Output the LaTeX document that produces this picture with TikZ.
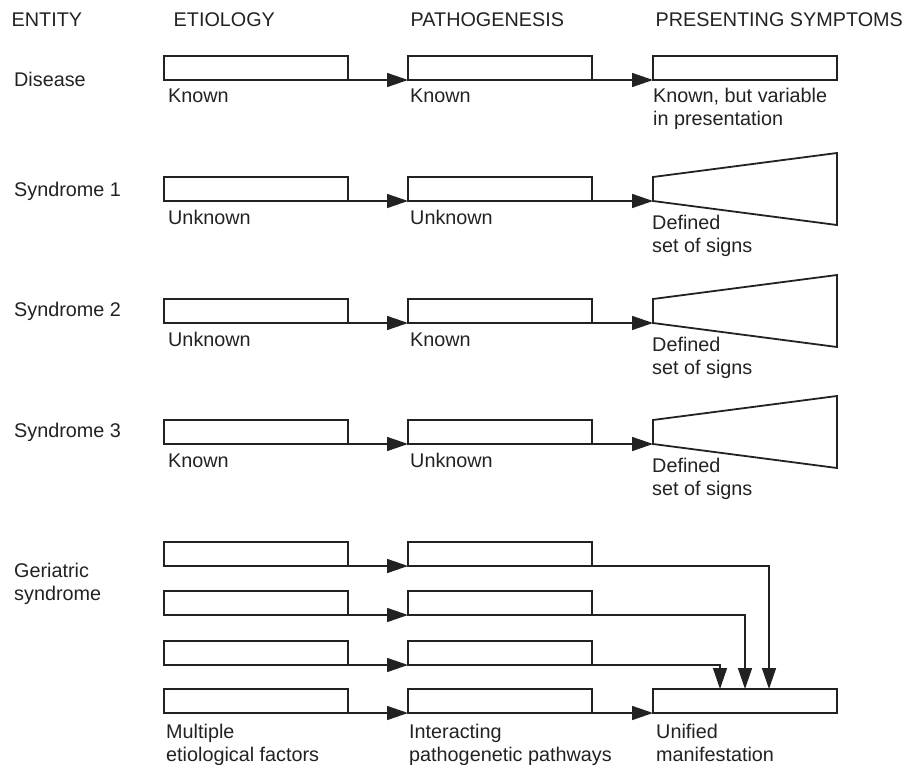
\documentclass[tikz,border=0pt]{standalone}
\usepackage{fontspec}
\setmainfont{Liberation Sans}
\usetikzlibrary{arrows.meta}
\definecolor{ink}{HTML}{222222}
\begin{document}
\begin{tikzpicture}[x=1pt,y=-1pt,
  box/.style={draw=ink, line width=1.8pt, minimum width=184pt, minimum height=24pt, inner sep=0pt, outer sep=0pt, anchor=north west},
  txt/.style={font=\fontsize{19.8}{23}\selectfont, text=ink, inner sep=0pt, anchor=base west},
  conn/.style={draw=ink, line width=1.5pt},
  arr/.style={conn, -{Triangle[length=21pt,width=14pt]}},
  redge/.style={draw=ink, line width=2.6pt},
  trap/.style={draw=ink, line width=1.8pt, line join=miter}]
\useasboundingbox (0,0) rectangle (907,765);

% headers
\node[txt] (hE) at (11.5,27) {ENTITY};
\node[txt] (hEt) at (173.5,27) {ETIOLOGY};
\node[txt] (hP) at (410.5,27) {PATHOGENESIS};
\node[txt] (hS) at (655.5,27) {PRESENTING SYMPTOMS};

% row labels
\node[txt] (lD) at (14,87) {Disease};
\node[txt] (lS1) at (14,196) {Syndrome 1};
\node[txt] (lS2) at (14,316) {Syndrome 2};
\node[txt] (lS3) at (14,437) {Syndrome 3};
\node[txt] (lG1) at (14,577) {Geriatric};
\node[txt] (lG2) at (14,600) {syndrome};

% Disease row
\node[box] (d1) at (164,56) {};
\node[box] (d2) at (408,56) {};
\node[box] (d3) at (653,56) {};
\draw[arr] (d1.south east) -- (d2.south west);
\draw[arr] (d2.south east) -- (d3.south west);
\node[txt] (td1) at (168,103) {Known};
\node[txt] (td2) at (410,103) {Known};
\node[txt] (td3a) at (653,103) {Known, but variable};
\node[txt] (td3b) at (653,126) {in presentation};

% Syndrome rows
\foreach \n/\t in {1/177,2/299,3/420}{
  \node[box] (s\n a) at (164,\t) {};
  \node[box] (s\n b) at (408,\t) {};
  \coordinate (s\n tl) at (653,\t);
  \coordinate (s\n tr) at (837,\t-24);
  \coordinate (s\n br) at (837,\t+48);
  \coordinate (s\n bl) at (653,\t+24);
  \draw[trap] (s\n tl) -- (s\n tr) -- (s\n br) -- (s\n bl) -- cycle;
  \draw[redge] (s\n tr) -- (s\n br);
  \draw[arr] (s\n a.south east) -- (s\n b.south west);
  \draw[arr] (s\n b.south east) -- (s\n bl);
  \node[txt] (s\n d1) at (652,\t+52) {Defined};
  \node[txt] (s\n d2) at (652,\t+75) {set of signs};
}

\node[txt] (ts1a) at (168,224) {Unknown};
\node[txt] (ts1b) at (410,224) {Unknown};
\node[txt] (ts2a) at (168,346) {Unknown};
\node[txt] (ts2b) at (410,346) {Known};
\node[txt] (ts3a) at (168,467) {Known};
\node[txt] (ts3b) at (410,467) {Unknown};

% Geriatric syndrome
\foreach \n/\t in {1/542,2/591,3/641,4/689}{
  \node[box] (g\n a) at (164,\t) {};
  \node[box] (g\n b) at (408,\t) {};
  \draw[arr] (g\n a.south east) -- (g\n b.south west);
}
\node[box] (u) at (653,689) {};
\draw[arr] (g4b.south east) -- (u.south west);
\path (u.north west) ++(116,0) coordinate (u1);
\path (u.north west) ++(92,0) coordinate (u2);
\path (u.north west) ++(67,0) coordinate (u3);
\draw[arr] (g1b.south east) -| (u1);
\draw[arr] (g2b.south east) -| (u2);
\draw[arr] (g3b.south east) -| (u3);

\node[txt] (tg1a) at (166,738) {Multiple};
\node[txt] (tg1b) at (166,761) {etiological factors};
\node[txt] (tg2a) at (409,738) {Interacting};
\node[txt] (tg2b) at (409,761) {pathogenetic pathways};
\node[txt] (tg3a) at (656,738) {Unified};
\node[txt] (tg3b) at (656,761) {manifestation};

% thicker right edges
\foreach \b in {d1,d2,d3,s1a,s1b,s2a,s2b,s3a,s3b,g1a,g1b,g2a,g2b,g3a,g3b,g4a,g4b,u}{
  \draw[redge] (\b.north east) -- (\b.south east);
}
\end{tikzpicture}
\end{document}
